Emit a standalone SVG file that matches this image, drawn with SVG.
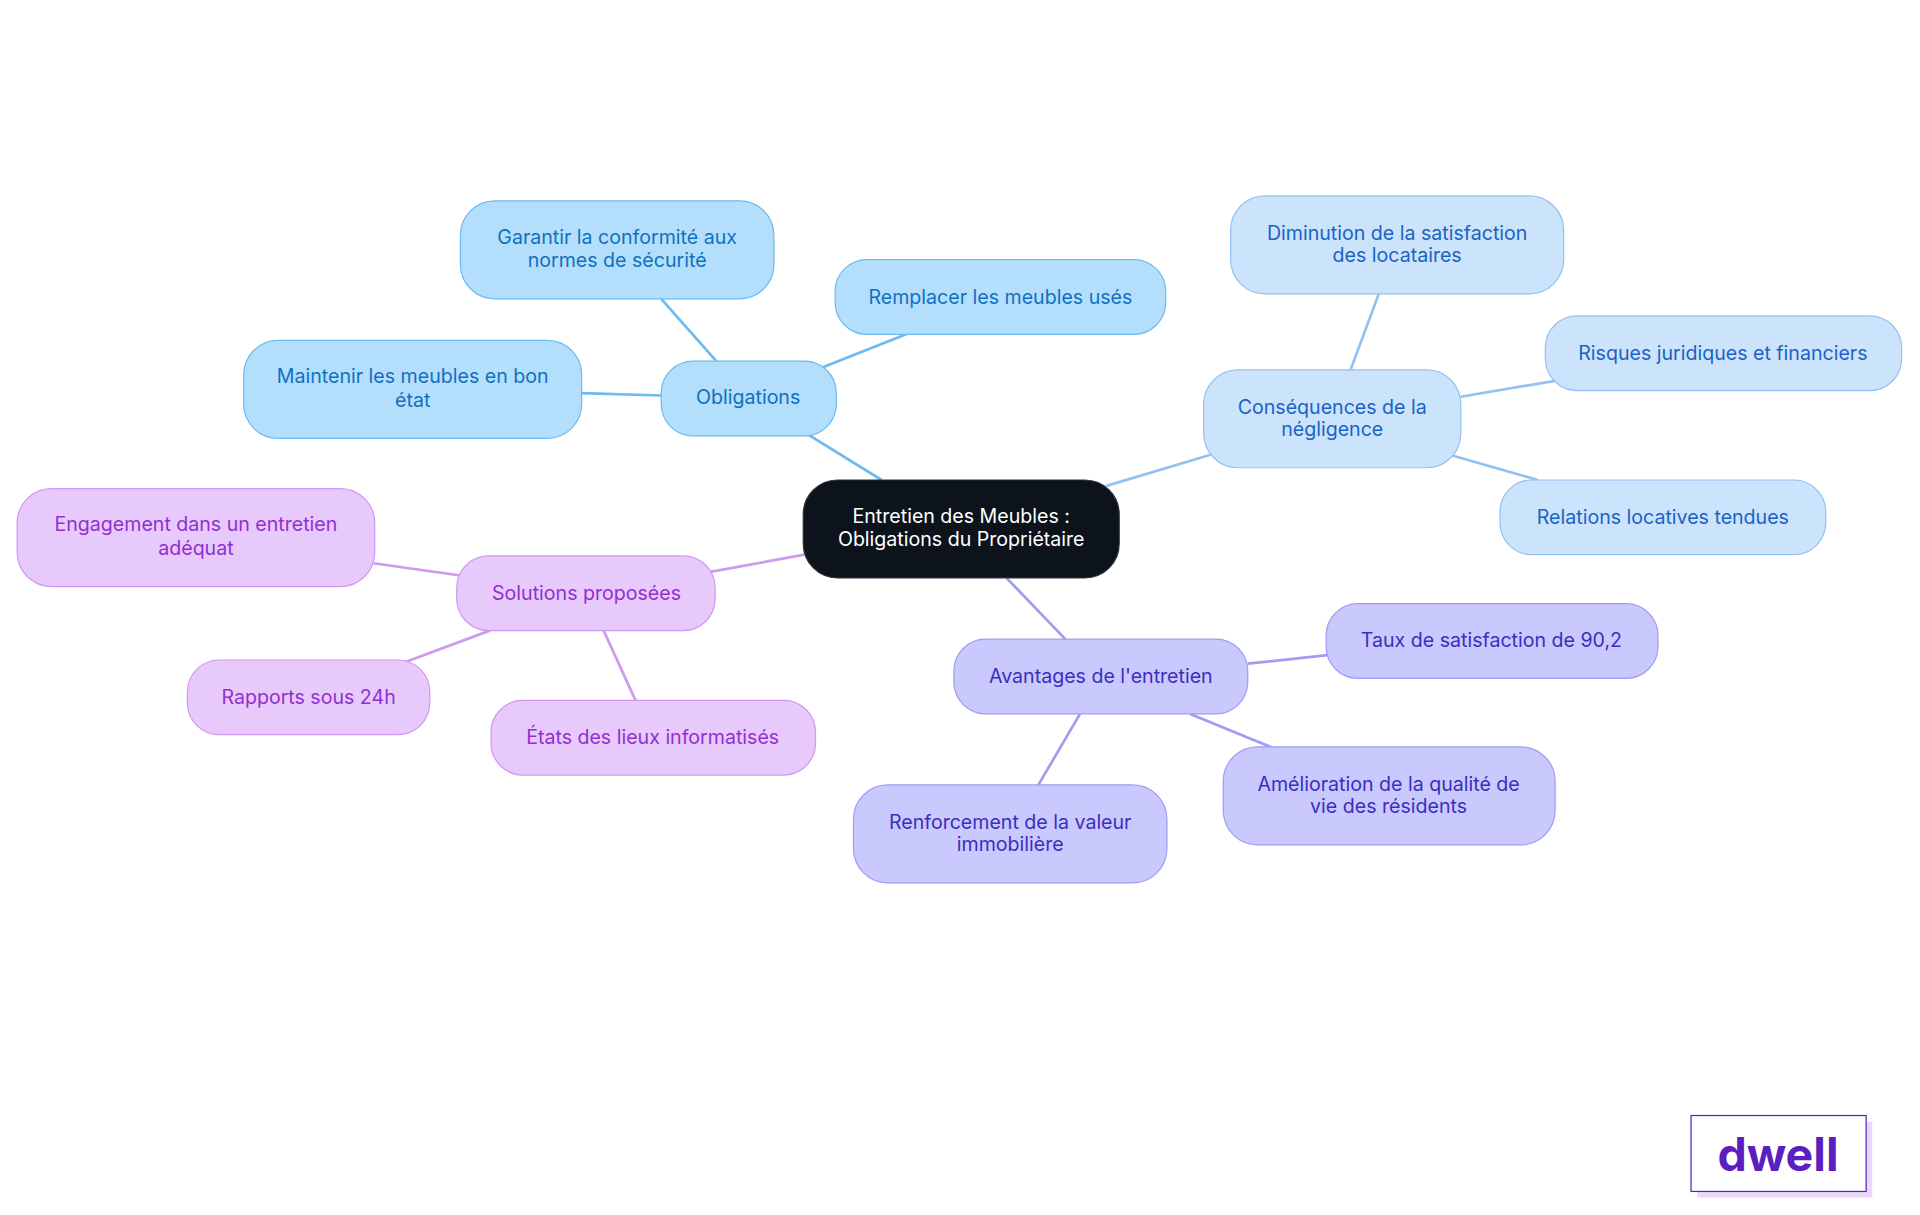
<svg xmlns="http://www.w3.org/2000/svg" width="1920" height="1215" viewBox="0 0 1920 1215">
<style>
text{font-family:Inter,"Noto Sans",sans-serif;font-size:16px;text-anchor:middle}
.b rect{fill:#b3dffd;stroke:#6cbaf0}.b text{fill:#1170c0}
.c rect{fill:#cce3fc;stroke:#94c1f2}.c text{fill:#1a63c5}
.v rect{fill:#c9c9fd;stroke:#a09cf2}.v text{fill:#3b2ec0}
.p rect{fill:#e8c9fc;stroke:#cf99f0}.p text{fill:#9130d0}
rect{stroke-width:1}
#edges line{stroke-width:2.2}
</style>
<rect width="1920" height="1215" fill="#fff"/>
<g transform="scale(1.2245)">
<g id="edges">
<g stroke="#6cbaf0"><line x1="720" y1="392" x2="660" y2="355"/><line x1="585" y1="295" x2="540" y2="244"/><line x1="672" y1="300" x2="740" y2="273"/><line x1="540" y1="323" x2="475" y2="321"/></g>
<g stroke="#94c1f2"><line x1="903" y1="397" x2="990" y2="371"/><line x1="1103" y1="302" x2="1126" y2="240"/><line x1="1193" y1="324" x2="1270" y2="311"/><line x1="1186" y1="372" x2="1256" y2="392"/></g>
<g stroke="#a09cf2"><line x1="822" y1="472" x2="870" y2="522"/><line x1="1019" y1="542" x2="1084" y2="535"/><line x1="972" y1="583" x2="1040" y2="611"/><line x1="882" y1="583" x2="848" y2="641"/></g>
<g stroke="#cf99f0"><line x1="657" y1="453" x2="580" y2="467"/><line x1="376" y1="470" x2="305" y2="460"/><line x1="400" y1="515" x2="330" y2="541"/><line x1="493" y1="515" x2="519" y2="572"/></g>
</g>
<g id="center"><rect x="656" y="392" width="258" height="80" rx="28" fill="#0d131b" stroke="#2a3038"/><text x="785" y="427" fill="#fff">Entretien des Meubles :</text><text x="785" y="446" fill="#fff">Obligations du Propriétaire</text></g>
<g id="obligations" class="b"><rect x="540" y="295" width="143" height="61" rx="26"/><text x="611" y="330">Obligations</text></g>
<g id="garantir" class="b"><rect x="376" y="164" width="256" height="80" rx="28"/><text x="504" y="199">Garantir la conformité aux</text><text x="504" y="218">normes de sécurité</text></g>
<g id="remplacer" class="b"><rect x="682" y="212" width="270" height="61" rx="26"/><text x="817" y="248">Remplacer les meubles usés</text></g>
<g id="maintenir" class="b"><rect x="199" y="278" width="276" height="80" rx="28"/><text x="337" y="313">Maintenir les meubles en bon</text><text x="337" y="332">état</text></g>
<g id="consequences" class="c"><rect x="983" y="302" width="210" height="80" rx="28"/><text x="1088" y="338">Conséquences de la</text><text x="1088" y="356">négligence</text></g>
<g id="diminution" class="c"><rect x="1005" y="160" width="272" height="80" rx="28"/><text x="1141" y="196">Diminution de la satisfaction</text><text x="1141" y="214">des locataires</text></g>
<g id="risques" class="c"><rect x="1262" y="258" width="291" height="61" rx="26"/><text x="1407" y="294">Risques juridiques et financiers</text></g>
<g id="relations" class="c"><rect x="1225" y="392" width="266" height="61" rx="26"/><text x="1358" y="428">Relations locatives tendues</text></g>
<g id="avantages" class="v"><rect x="779" y="522" width="240" height="61" rx="26"/><text x="899" y="558">Avantages de l'entretien</text></g>
<g id="taux" class="v"><rect x="1083" y="493" width="271" height="61" rx="26"/><text x="1218" y="528">Taux de satisfaction de 90,2</text></g>
<g id="amelioration" class="v"><rect x="999" y="610" width="271" height="80" rx="28"/><text x="1134" y="646">Amélioration de la qualité de</text><text x="1134" y="664">vie des résidents</text></g>
<g id="renforcement" class="v"><rect x="697" y="641" width="256" height="80" rx="28"/><text x="825" y="677">Renforcement de la valeur</text><text x="825" y="695">immobilière</text></g>
<g id="solutions" class="p"><rect x="373" y="454" width="211" height="61" rx="26"/><text x="479" y="490">Solutions proposées</text></g>
<g id="engagement" class="p"><rect x="14" y="399" width="292" height="80" rx="28"/><text x="160" y="434">Engagement dans un entretien</text><text x="160" y="453">adéquat</text></g>
<g id="rapports" class="p"><rect x="153" y="539" width="198" height="61" rx="26"/><text x="252" y="575">Rapports sous 24h</text></g>
<g id="etats" class="p"><rect x="401" y="572" width="265" height="61" rx="26"/><text x="533" y="608">États des lieux informatisés</text></g>
<g id="logo"><rect x="1386" y="916" width="143" height="62" fill="#ead8fb"/><rect x="1381" y="911" width="143" height="62" fill="#fff" stroke="#5b1fbf" stroke-width="2"/><text x="1452" y="956" style="font-size:38px;font-weight:700;fill:#5b1fbf">dwell</text></g>
</g>
</svg>
